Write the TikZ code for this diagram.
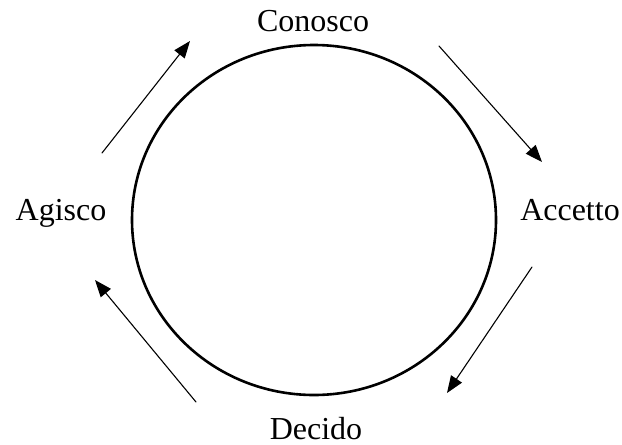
\documentclass[tikz,border=0pt]{standalone}
\usepackage{fontspec}
\setmainfont{Liberation Serif}
\usepackage{tikz}
\usetikzlibrary{arrows.meta}
\tikzset{
    every picture/.style={line cap=round,line join=round},
    stagelabel/.style={anchor=base,inner sep=0pt,font=\fontsize{32}{38}\selectfont},
    cycleline/.style={draw=black,line width=2.6pt},
    cyclearrow/.style={-{Triangle[length=17pt,width=13pt]},draw=black,
      line width=1.1pt}
}
\begin{document}
\begin{tikzpicture}[x=1pt,y=-1pt]
  \useasboundingbox (0,0) rectangle (622,445);
  % the cycle
  \draw[cycleline] (314,220) ellipse [x radius=182,y radius=175];
  % stages
  \node[stagelabel] (conosco) at (313,31) {Conosco};
  \node[stagelabel] (accetto) at (570,220) {Accetto};
  \node[stagelabel] (decido) at (316,439) {Decido};
  \node[stagelabel] (agisco) at (61,220) {Agisco};
  % arrow ends
  \coordinate (a1s) at (102,153);
  \coordinate (a1e) at (190,41);
  \coordinate (a2s) at (439,46);
  \coordinate (a2e) at (542,162);
  \coordinate (a3s) at (532,267);
  \coordinate (a3e) at (447,393);
  \coordinate (a4s) at (196,402);
  \coordinate (a4e) at (95,280);
  \draw[cyclearrow] (a1s) -- (a1e);
  \draw[cyclearrow] (a2s) -- (a2e);
  \draw[cyclearrow] (a3s) -- (a3e);
  \draw[cyclearrow] (a4s) -- (a4e);
\end{tikzpicture}
\end{document}
